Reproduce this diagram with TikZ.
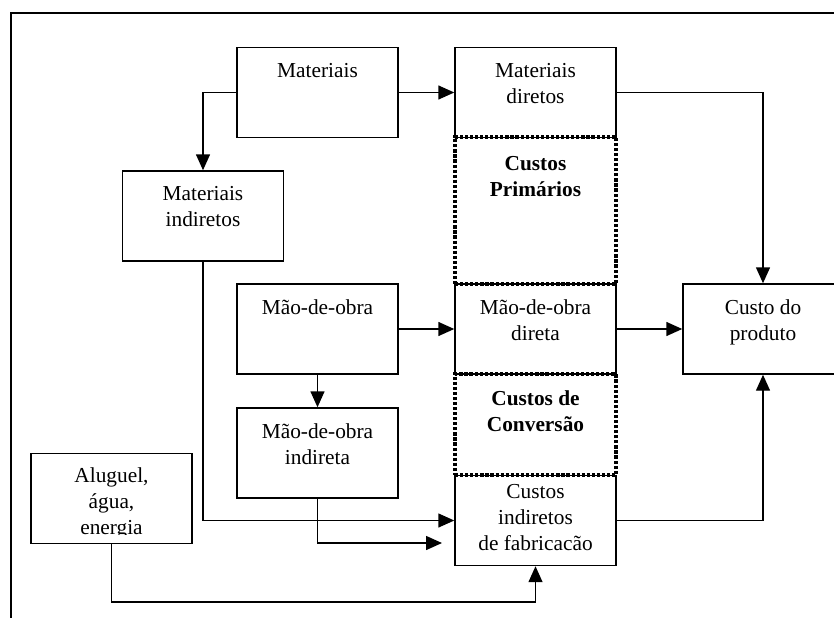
\documentclass[tikz,border=0pt]{standalone}
\usepackage{fontspec}
\setmainfont{Liberation Serif}
\usetikzlibrary{arrows.meta}
\begin{document}
\begin{tikzpicture}[x=0.75pt, y=-0.75pt,
  box/.style={draw, line width=1.1pt, minimum width=120.75pt, minimum height=67.5pt, inner sep=0pt},
  lbl/.style={font=\fontsize{16}{19.5}\selectfont, align=center, inner sep=0pt, anchor=north},
  lblb/.style={lbl, font=\fontsize{16}{19.5}\selectfont\bfseries},
  dotbox/.style={draw, line width=2.4pt, dash pattern=on 2.4pt off 1.4pt, minimum width=120.75pt, inner sep=0pt},
  conn/.style={line width=1.1pt, -{Triangle[length=12pt, width=10.5pt]}},
  frameline/.style={line width=1.2pt}
]
\clip (0,0) rectangle (834,617);
% frame
\coordinate (ftl) at (11,13);
\draw[frameline] (850,13) -- (ftl) -- (11,640);
% boxes
\node[box, label={[lbl, yshift=-12pt]north:Materiais}] (mat) at (317.5,92.5) {};
\node[box, label={[lbl, yshift=-12pt]north:{Materiais\\diretos}}] (md) at (535.5,92.5) {};
\node[box, label={[lbl, yshift=-12pt]north:{Materiais\\indiretos}}] (mi) at (203,216) {};
\node[box, label={[lbl, yshift=-12pt]north:{Mão-de-obra}}] (mo) at (317.5,329) {};
\node[box, label={[lbl, yshift=-12pt]north:{Mão-de-obra\\direta}}] (mod) at (535.5,329) {};
\node[box, label={[lbl, yshift=-12pt]north:{Mão-de-obra\\indireta}}] (moi) at (317.5,453) {};
\node[box, label={[lbl, yshift=-7pt]north:{Custos\\indiretos\\de fabricacão}}] (cif) at (535.5,520.5) {};
\node[box, minimum width=120pt, label={[lbl, yshift=-12pt]north:{Custo do\\produto}}] (cp) at (763,329) {};
\node[box] (alug) at (111.5,498.5) {};
\begin{scope}
  \clip ([xshift=1pt]alug.north west) rectangle (191,534);
  \node[lbl] (alugtxt) at ([yshift=-11pt]alug.north) {Aluguel,\\água,\\energia};
\end{scope}
% dotted groups
\node[dotbox, minimum height=110.25pt, label={[lblb, yshift=-15.5pt]north:{Custos\\Primários}}] (prim) at (535.5,210.5) {};
\node[dotbox, minimum height=75.75pt, label={[lblb, yshift=-13.5pt]north:{Custos de\\Conversão}}] (conv) at (535.5,424.5) {};
% connectors
\draw[conn] (mat.east) -- (md.west);
\draw[conn] (mat.west) -| (mi.north);
\draw[conn] (md.east) -| (cp.north);
\draw[conn] (mo.east) -- (mod.west);
\draw[conn] (mod.east) -- (cp.west);
\draw[conn] (mo.south) -- (moi.north);
\draw[conn] (mi.south) |- (cif.west);
\coordinate (e2) at (442,543);
\draw[conn] (moi.south) |- (e2);
\coordinate (r3) at (535.5,602);
\draw[conn] (alug.south) |- (r3) -- (cif.south);
\draw[conn] (cif.east) -| (cp.south);
\end{tikzpicture}
\end{document}
